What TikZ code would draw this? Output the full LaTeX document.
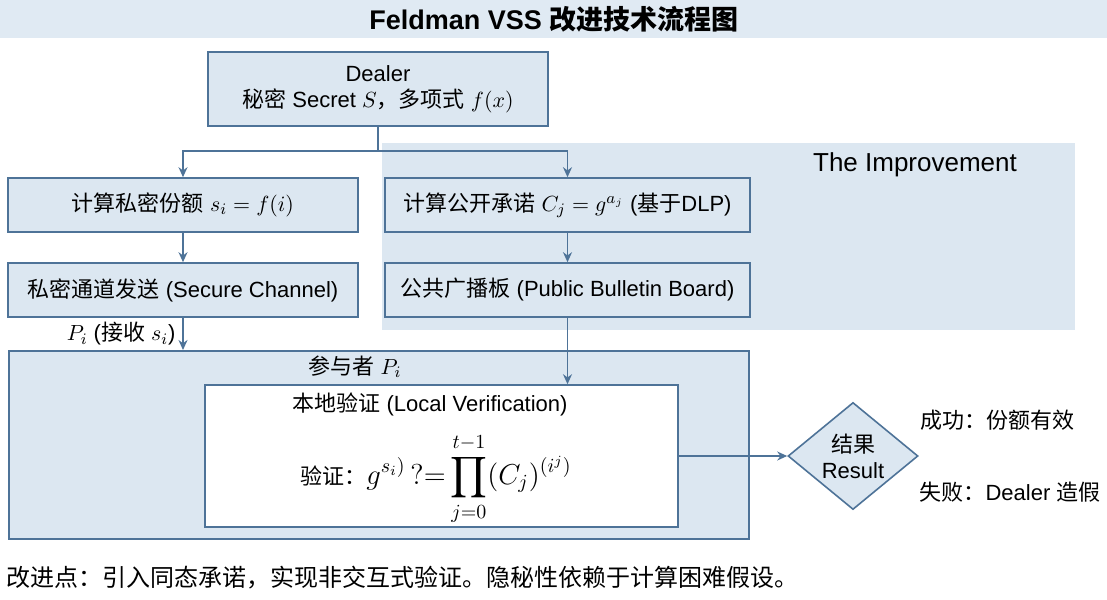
\documentclass[tikz,border=0pt]{standalone}
\usepackage{amsmath}
\usepackage{fontspec}
\setmainfont{Liberation Sans}
\newfontfamily\cjk{Noto Sans CJK SC}
\usetikzlibrary{positioning,arrows.meta,shapes.geometric}
\definecolor{boxblue}{HTML}{DCE7F1}
\definecolor{lineblue}{HTML}{4E7398}
\definecolor{bandblue}{HTML}{E0EAF3}
\newcommand{\zh}[1]{{\cjk #1}}

\begin{document}
\begin{tikzpicture}[x=0.5pt, y=-0.5pt, font=\fontsize{11}{13}\selectfont,
  box/.style={draw=lineblue, fill=boxblue, line width=0.8pt, inner sep=2pt, align=center},
  wide/.style={box, minimum width=175pt, minimum height=27pt},
  pub/.style={box, minimum width=182.5pt, minimum height=27pt},
  arr/.style={-{Stealth[length=5pt, width=4.5pt]}, line width=0.8pt, lineblue}]
\useasboundingbox (0,0) rectangle (1107,599);
\node[fill=bandblue, anchor=north west, inner sep=0, minimum width=553.5pt, minimum height=19pt,
  font=\bfseries\fontsize{13.5}{15}\selectfont] (title) at (0,0) {Feldman VSS \zh{改进技术流程图}};
\node[fill=boxblue, anchor=north west, inner sep=0, minimum width=346.5pt, minimum height=93.5pt] (improve) at (382,143) {};
\node[font=\fontsize{13}{15}\selectfont] (improvelabel) at (915,165) {The Improvement};
\node[box, minimum width=170pt, minimum height=37pt] (dealer) at (378,89) {Dealer\\\zh{秘密} Secret $S$\zh{，多项式} $f(x)$};
\node[wide] (share) at (183,205) {\zh{计算私密份额} $s_i = f(i)$};
\node[pub] (commit) at (567.5,205) {\zh{计算公开承诺} $C_j = g^{a_j}$ (\zh{基于}DLP)};
\node[wide] (channel) at (183,290) {\zh{私密通道发送} (Secure Channel)};
\node[pub] (board) at (567.5,290) {\zh{公共广播板} (Public Bulletin Board)};
\node[box, anchor=north west, minimum width=370pt, minimum height=94pt] (party) at (8,350) {};
\node (partylabel) at (355,367) {\zh{参与者} $P_i$};
\node[box, fill=white, minimum width=236.5pt, minimum height=71pt] (verify) at (441.5,456) {};
\node[inner sep=1pt] (verifylabel) at (430,404) {\zh{本地验证} (Local Verification)};
\node[inner sep=1pt] (formula) at (436,479) {\zh{验证：}{\fontsize{14}{16}\selectfont$\displaystyle g^{s_i)}\,?{=}\prod_{j=0}^{t-1}(C_j)^{(i^j)}$}};
\node[box, diamond, inner sep=0, minimum width=65pt, minimum height=52pt] (result) at (853,456) {\zh{结果}\\Result};
\node (okay) at (997,420) {\zh{成功：份额有效}};
\node (fail) at (1010,492) {\zh{失败：}Dealer \zh{造假}};
\node[anchor=west, inner sep=0, font=\fontsize{12}{14}\selectfont] (note) at (6,578) {\zh{改进点：引入同态承诺，实现非交互式验证。隐秘性依赖于计算困难假设。}};
\draw[arr] (dealer.south) -- ++(0,24) coordinate (split) -| (share.north);
\draw[arr] (split) -| (commit.north);
\draw[arr] (share) -- (channel);
\draw[arr] (commit) -- (board);
\draw[arr] (channel) -- (channel.south |- party.north)
  node[midway, left, black]{$P_i$ (\zh{接收} $s_i$)};
\draw[arr] (board) -- (board.south |- verify.north);
\draw[arr] (verify.east) -- (result.west);
\end{tikzpicture}
\end{document}
